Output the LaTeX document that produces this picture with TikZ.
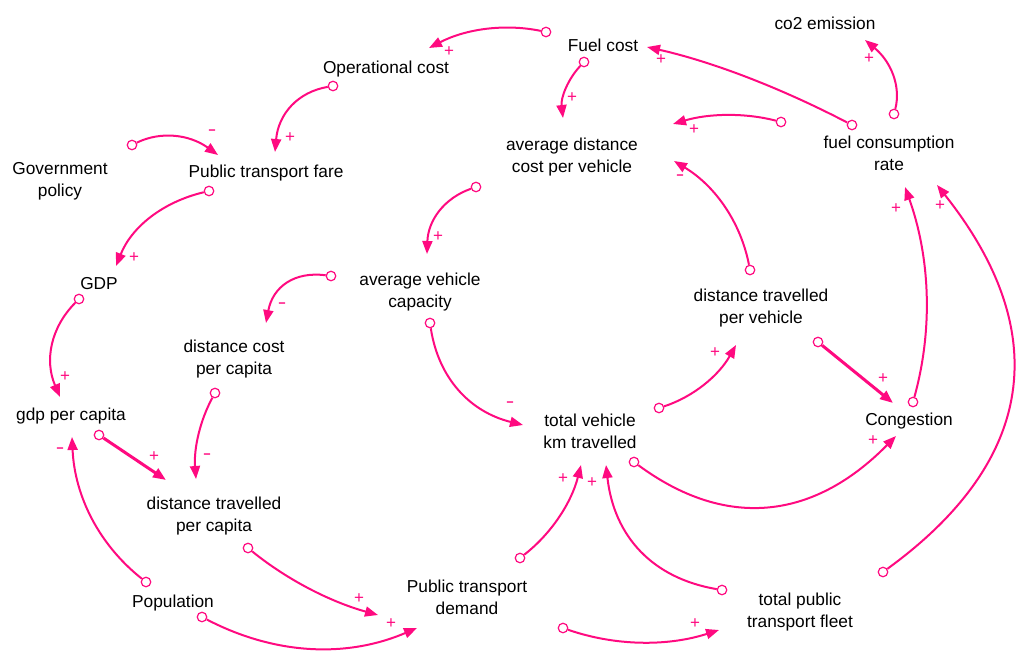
\documentclass[tikz,border=0pt]{standalone}
\usepackage{fontspec}
\setmainfont{Liberation Sans}
\usetikzlibrary{arrows.meta,calc}
\definecolor{linkpink}{HTML}{FF0A80}
\tikzset{
  var/.style={align=center,inner sep=0pt,yshift=-2pt,font=\fontsize{17.3}{22}\selectfont,text=black},
  link/.style={draw=linkpink,line width=2pt,-{Triangle[length=13pt,width=10pt]}},
  heavy/.style={line width=3pt},
  tailmark/.style={circle,draw=linkpink,fill=white,line width=1.2pt,minimum size=9.5pt,inner sep=0pt},
  sign/.style={text=linkpink,inner sep=0pt,font=\fontsize{17}{17}\selectfont}
}
% \causal[extra]{id}{tail}{via}{head}{sign position}{sign}
% the link is a quadratic curve from tail to head passing through "via"
\newcommand\causal[7][]{%
  \node[tailmark] (t#2) at (#3) {};
  \coordinate (m#2) at (#4);
  \coordinate (h#2) at (#5);
  \coordinate (q#2) at ($2*(m#2)-0.5*(t#2.center)-0.5*(h#2)$);
  \draw[link,#1] (t#2) .. controls ($(t#2.center)!2/3!(q#2)$) and ($(h#2)!2/3!(q#2)$) .. (h#2);
  \node[sign] (s#2) at (#6) {#7};
}
\newcommand\minussign{\scalebox{1.5}[1.1]{-}}
\begin{document}
\begin{tikzpicture}[x=1pt,y=-1pt]
\useasboundingbox (0,0) rectangle (1016,650);

% variables
\node[var] (fuelcost) at (603,43) {Fuel cost};
\node[var] (co2) at (825,21) {co2 emission};
\node[var] (opcost) at (386,67) {Operational cost};
\node[var] (fare) at (266,171) {Public transport fare};
\node[var] (gov) at (60,179) {Government\\policy};
\node[var] (gdp) at (99,282) {GDP};
\node[var] (gdppc) at (71,414) {gdp per capita};
\node[var] (dcpc) at (234,357) {distance cost\\per capita};
\node[var] (dtpc) at (214,514) {distance travelled\\per capita};
\node[var] (pop) at (173,601) {Population};
\node[var] (ptd) at (467,595) {Public transport\\demand};
\node[var] (fleet) at (800,610) {total public\\transport fleet};
\node[var] (tvkm) at (590,429) {total vehicle\\km travelled};
\node[var] (avc) at (420,290) {average vehicle\\capacity};
\node[var] (adcv) at (572,155) {average distance\\cost per vehicle};
\node[var] (dtpv) at (761,306) {distance travelled\\per vehicle};
\node[var] (fcr) at (889,151) {fuel consumption\\rate};
\node[var] (cong) at (909,419) {Congestion};

% causal links
\causal{1}{546,32}{486,29.6}{429,48}{449,52}{+}
\causal{2}{584,62}{566.5,89}{563,118}{572,98}{+}
\causal{3}{852,125}{747,77.5}{647,47}{661,60}{+}
\causal{4}{894,114}{892,75}{865,40}{869,59}{+}
\causal{5}{781,122}{727,115.5}{673,124}{694,130}{+}
\causal{6}{750,270}{724,207}{674,161}{680,178}{\minussign}
\causal{7}{333,86}{292,107}{275,152}{290,138}{+}
\causal{8}{132,145}{175,137}{218,155}{212,133}{\minussign}
\causal{9}{209,191}{151,218}{116,266}{134,258}{+}
\causal{10}{79,299}{53,345}{60,397}{65,377}{+}
\causal[heavy]{11}{99,435}{132.5,457.5}{166,480}{154,457}{+}
\causal{12}{215,393}{199,435}{196,479}{207,457}{\minussign}
\causal{13}{146,582}{92.5,518}{72,437}{60,451}{\minussign}
\causal{14}{248,548}{309.5,588.3}{378,615}{359,599}{+}
\causal{15}{202,617}{310,648}{417,628}{391,624}{+}
\causal{16}{520,558}{558.5,516.7}{581,465}{563,479}{+}
\causal{17}{722,590}{641,550}{606,465}{592,483}{+}
\causal{18}{563,628}{641,642}{719,630}{695,624}{+}
\causal{19}{430,323}{459.5,389.5}{523,425}{510,405}{\minussign}
\causal{20}{659,408}{703.6,384}{736,345}{715,353}{+}
\causal[heavy]{21}{818,342}{855.5,372.5}{893,403}{883,379}{+}
\causal{22}{913,402}{926,294}{905,187}{896,209}{+}
\causal{23}{883,572}{1011,392}{937,185}{940,206}{+}
\causal{24}{634,462}{768,506}{896,436}{873,441}{+}
\causal{25}{476,187}{440,212}{427,254}{438,237}{+}
\causal{26}{331,276}{287.3,284.1}{266,323}{282,306}{\minussign}
\end{tikzpicture}
\end{document}
